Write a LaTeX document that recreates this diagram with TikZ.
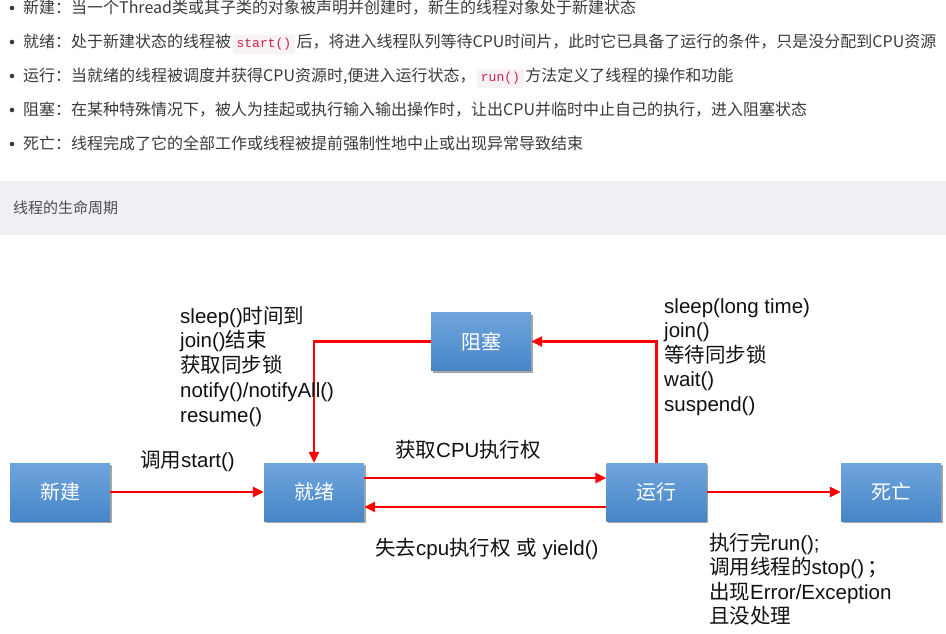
\documentclass[tikz,border=0pt]{standalone}
\usepackage{fontspec}
\setmainfont{Liberation Sans}
\newfontfamily\cjk{Noto Sans CJK SC}
\newfontfamily\codefont{Liberation Mono}
\usetikzlibrary{arrows.meta,shadows}
\definecolor{txt}{HTML}{3A3A3A}
\definecolor{band}{HTML}{EEF0F4}
\definecolor{bandtxt}{HTML}{4D4D4D}
\definecolor{codebg}{HTML}{F9F2F4}
\definecolor{codetxt}{HTML}{C7254E}
\definecolor{boxtop}{HTML}{6FA5DE}
\definecolor{boxbot}{HTML}{4785C7}
\definecolor{lblcol}{HTML}{111111}
\begin{document}
\begin{tikzpicture}[x=1pt,y=-1pt,
  tt/.style={font=\cjk\fontsize{16}{18}\selectfont, text=txt, inner sep=0pt, anchor=base west},
  codebox/.style={font=\codefont\fontsize{13}{15}\selectfont, text=codetxt, fill=codebg, rounded corners=2pt, inner xsep=4pt, inner ysep=3.5pt, anchor=base west},
  state/.style={minimum width=100pt, minimum height=58pt, inner sep=0pt, top color=boxtop, bottom color=boxbot, text=white, font=\cjk\fontsize{20}{24}\selectfont, drop shadow={shadow xshift=1.5pt, shadow yshift=-2pt, opacity=0.35, fill=black}},
  lbl/.style={font=\fontsize{20.5}{24.7}\selectfont, text=lblcol, inner sep=0pt, anchor=base west},
  arr/.style={draw=red, line width=2.9pt, -{Triangle[length=11pt,width=10pt]}}
]
\useasboundingbox (0,0) rectangle (946,633);

% bullet list
\foreach \yy in {8,42,76,110,144} \fill[txt] (12,\yy) circle[radius=2.3pt];
\node[tt] (t1) at (23,13.8) {新建：当一个Thread类或其子类的对象被声明并创建时，新生的线程对象处于新建状态};
\node[tt] (t2a) at (23,47.8) {就绪：处于新建状态的线程被};
\node[codebox] (t2c) at ([xshift=1pt]t2a.base east) {start()};
\node[tt] (t2b) at ([xshift=1pt]t2c.base east) {后，将进入线程队列等待CPU时间片，此时它已具备了运行的条件，只是没分配到CPU资源};
\node[tt] (t3a) at (23,81.8) {运行：当就绪的线程被调度并获得CPU资源时,便进入运行状态，};
\node[codebox] (t3c) at ([xshift=1pt]t3a.base east) {run()};
\node[tt] (t3b) at ([xshift=1pt]t3c.base east) {方法定义了线程的操作和功能};
\node[tt] (t4) at (23,115.8) {阻塞：在某种特殊情况下，被人为挂起或执行输入输出操作时，让出CPU并临时中止自己的执行，进入阻塞状态};
\node[tt] (t5) at (23,149.8) {死亡：线程完成了它的全部工作或线程被提前强制性地中止或出现异常导致结束};

% caption band
\fill[band] (0,181) rectangle (946,235);
\node[font=\cjk\fontsize{15}{18}\selectfont, text=bandtxt, inner sep=0pt, anchor=base west] (cap) at (13,213.5) {线程的生命周期};

% states
\node[state] (xj) at (60,492) {新建};
\node[state] (jx) at (314,492) {就绪};
\node[state] (yx) at (656.5,492) {运行};
\node[state] (sw) at (891,492) {死亡};
\node[state] (zs) at (481,341.5) {阻塞};

% connectors
\draw[arr] (xj.east) -- (jx.west);
\draw[arr] ([yshift=14pt]jx.east) -- ([yshift=14pt]yx.west);
\draw[arr] ([yshift=-15pt]yx.west) -- ([yshift=-15pt]jx.east);
\draw[arr] (yx.east) -- (sw.west);
\draw[arr] (yx.north) |- (zs.east);
\draw[arr] (zs.west) -| (jx.north);

% labels
\node[lbl] (a1) at (180,323) {sleep()\cjk 时间到};
\node[lbl] (a2) at (180,347.8) {join()\cjk 结束};
\node[lbl] (a3) at (180,372.6) {\cjk 获取同步锁};
\node[lbl] (a4) at (180,397.4) {notify()/notifyAll()};
\node[lbl] (a5) at (180,422.2) {resume()};

\node[lbl] (b1) at (664,313) {sleep(long time)};
\node[lbl] (b2) at (664,337.5) {join()};
\node[lbl] (b3) at (664,362) {\cjk 等待同步锁};
\node[lbl] (b4) at (664,386.5) {wait()};
\node[lbl] (b5) at (664,411) {suspend()};

\node[lbl] (c1) at (140,467) {{\cjk 调用}start()};
\node[lbl] (c2) at (395,457) {{\cjk 获取}CPU{\cjk 执行权}};
\node[lbl] (c3) at (375,555) {{\cjk 失去}cpu{\cjk 执行权} {\cjk 或} yield()};

\node[lbl] (d1) at (709,550) {{\cjk 执行完}run();};
\node[lbl] (d2) at (709,574.5) {{\cjk 调用线程的}stop()\,{\cjk ；}};
\node[lbl] (d3) at (709,599) {{\cjk 出现}Error/Exception};
\node[lbl] (d4) at (709,623) {\cjk 且没处理};
\end{tikzpicture}
\end{document}
